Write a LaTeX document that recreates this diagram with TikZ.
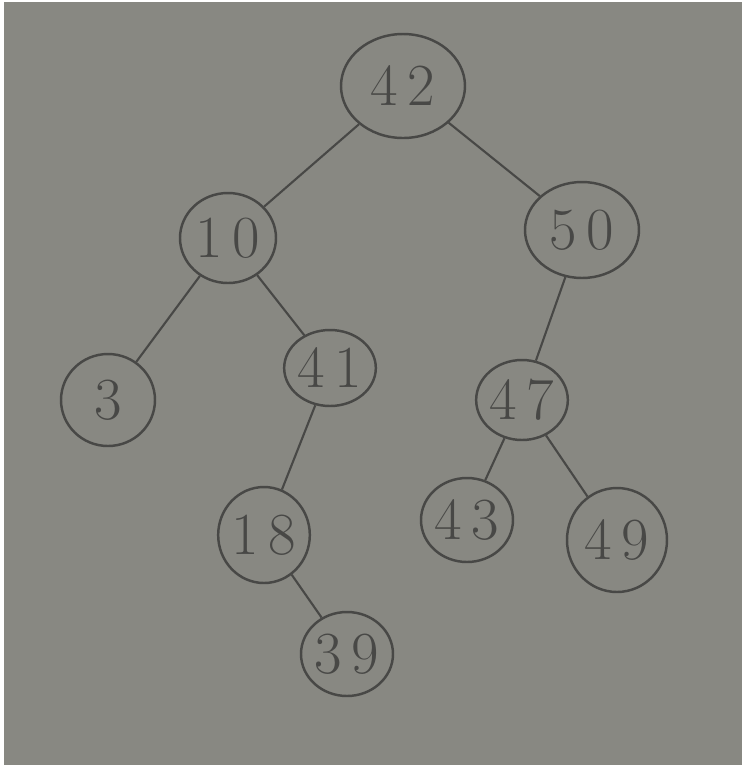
\documentclass[tikz,border=0pt]{standalone}
\usepackage{tikz}
\usetikzlibrary{shapes.geometric}

\definecolor{paper}{RGB}{136,136,130}
\definecolor{pencil}{RGB}{72,72,70}

\tikzset{
  key/.style={ellipse,draw=pencil,line width=0.7pt,inner sep=0pt,
    text=pencil,font=\fontsize{17}{17}\selectfont},
  link/.style={draw=pencil,line width=0.6pt}
}

\begin{document}
\begin{tikzpicture}[x=0.1mm,y=-0.1mm]
\useasboundingbox (0,0) rectangle (742,769);
\fill[white] (0,0) rectangle (742,769);
\fill[paper] (4,2) rectangle (742,765);
% nodes
\node[key,minimum width=12.4mm,minimum height=10.4mm] (n42) at (403,86) {4\,2};
\node[key,minimum width=9.6mm,minimum height=9mm] (n10) at (228,238) {1\,0};
\node[key,minimum width=11.4mm,minimum height=9.6mm] (n50) at (582,230) {5\,0};
\node[key,minimum width=9.4mm,minimum height=9.2mm] (n3) at (108,400) {3};
\node[key,minimum width=8mm,minimum height=7.6mm] (n41) at (330,368) {4\,1};
\node[key,minimum width=9mm,minimum height=8mm] (n47) at (522,400) {4\,7};
\node[key,minimum width=9mm,minimum height=9.6mm] (n18) at (264,535) {1\,8};
\node[key,minimum width=9.2mm,minimum height=8.4mm] (n43) at (467,520) {4\,3};
\node[key,minimum width=10mm,minimum height=10.4mm] (n49) at (617,540) {4\,9};
\node[key,minimum width=9.2mm,minimum height=8.4mm] (n39) at (347,654) {3\,9};
% edges
\draw[link] (n42) -- (n10);
\draw[link] (n42) -- (n50);
\draw[link] (n10) -- (n3);
\draw[link] (n10) -- (n41);
\draw[link] (n50) -- (n47);
\draw[link] (n41) -- (n18);
\draw[link] (n47) -- (n43);
\draw[link] (n47) -- (n49);
\draw[link] (n18) -- (n39);
\end{tikzpicture}
\end{document}
